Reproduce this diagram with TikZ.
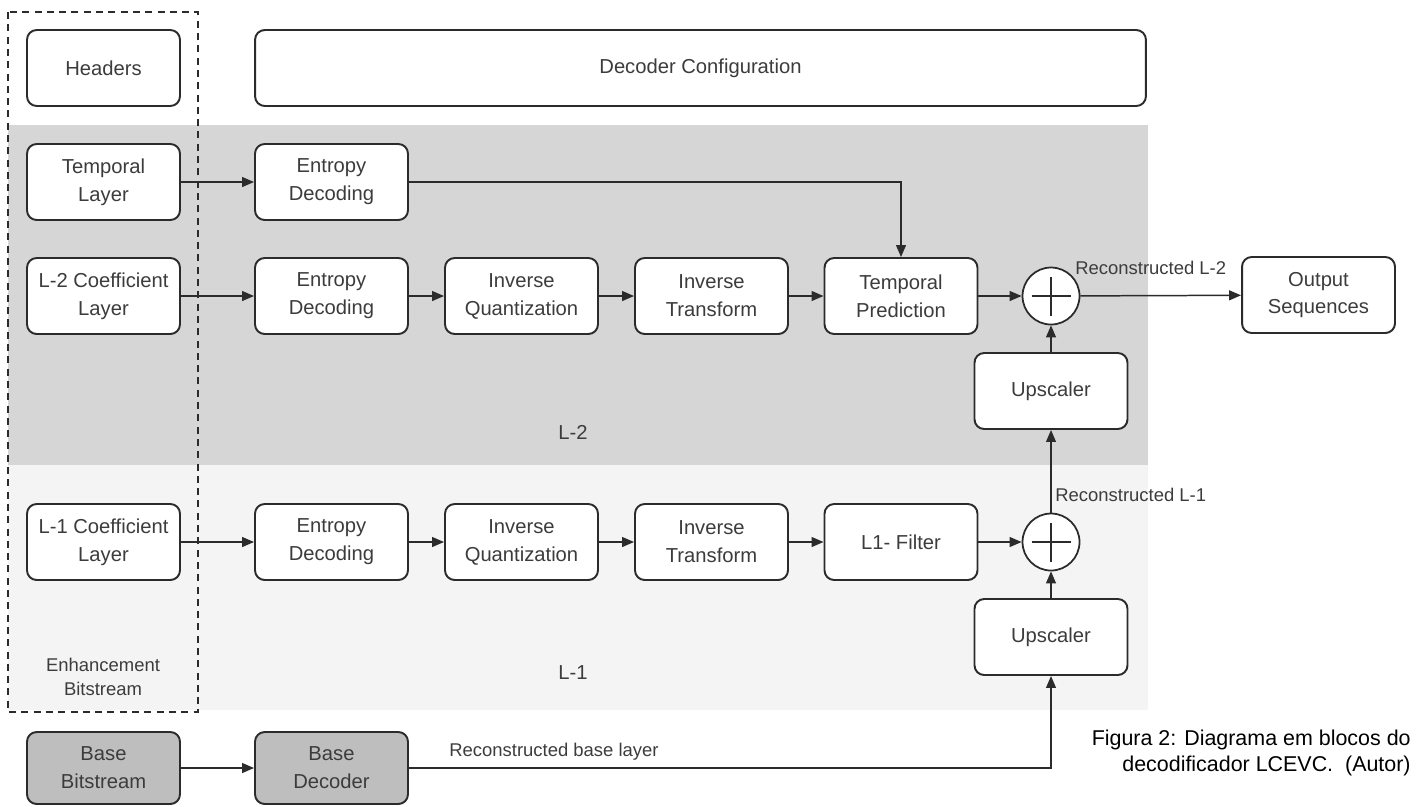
\documentclass[tikz,border=0pt]{standalone}
\usepackage{fontspec}
\setmainfont{Liberation Sans}
\definecolor{lcline}{RGB}{43,43,43}
\definecolor{lctext}{RGB}{60,60,60}
\definecolor{lcdark}{RGB}{214,214,214}
\definecolor{lclight}{RGB}{244,244,244}
\definecolor{lcbase}{RGB}{190,190,190}
\usetikzlibrary{arrows.meta,positioning,calc}

\begin{document}
\begin{tikzpicture}[x=0.02cm,y=-0.02cm,
  block/.style={draw=lcline,line width=1.1pt,rounded corners=5.5pt,fill=white,
    minimum width=3.06cm,minimum height=1.52cm,inner sep=0pt,align=center,
    text=lctext,font=\fontsize{11.5}{15.9}\selectfont},
  baseblock/.style={block,fill=lcbase},
  sumnode/.style={draw=lcline,line width=1pt,circle,fill=white,minimum size=1.14cm,inner sep=0pt,
    path picture={\draw[lcline,line width=0.9pt]
      ([xshift=-0.39cm]path picture bounding box.center) -- ([xshift=0.39cm]path picture bounding box.center);
      \draw[lcline,line width=0.9pt]
      ([yshift=-0.39cm]path picture bounding box.center) -- ([yshift=0.39cm]path picture bounding box.center);}},
  flow/.style={draw=lcline,line width=0.85pt,-{Triangle[length=6.8pt,width=5.6pt]}},
  lbl/.style={text=lctext,font=\fontsize{10.5}{13.6}\selectfont,inner sep=0pt}]
\useasboundingbox (0,0) rectangle (1422,806);
% layer bands
\fill[lcdark] (8,125) rectangle (1148,465);
\fill[lclight] (8,465) rectangle (1148,710);
\node[lbl,font=\fontsize{11.5}{15.9}\selectfont] (l2name) at (573,432) {L-2};
\node[lbl,font=\fontsize{11.5}{15.9}\selectfont] (l1name) at (573,673) {L-1};
% enhancement bitstream
\draw[lcline,line width=0.9pt,dash pattern=on 4pt off 3pt] (8,12) rectangle (198,712);
\node[lbl,align=center] (enhname) at (103,677) {Enhancement\\Bitstream};
% top row
\node[block] (headers) at (103.5,68) {Headers};
\node[block,minimum width=17.82cm] (deccfg) at (700.5,68) {Decoder Configuration};
\node[block] (templayer) at (103.5,182) {Temporal\\Layer};
\node[block] (ent0) at (331.5,182) {Entropy\\Decoding};
% L-2
\node[block] (l2coef) at (103.5,296) {L-2 Coefficient\\Layer};
\node[block] (ent2) at (331.5,296) {Entropy\\Decoding};
\node[block] (iq2) at (521.5,296) {Inverse\\Quantization};
\node[block] (it2) at (711.5,296) {Inverse\\Transform};
\node[block] (tpred) at (901,296) {Temporal\\Prediction};
\node[sumnode] (plus2) at (1051,296) {};
\node[block] (outseq) at (1318.5,295) {Output\\Sequences};
\node[block] (upsc2) at (1051,391) {Upscaler};
% L-1
\node[block] (l1coef) at (103.5,542) {L-1 Coefficient\\Layer};
\node[block] (ent1) at (331.5,542) {Entropy\\Decoding};
\node[block] (iq1) at (521.5,542) {Inverse\\Quantization};
\node[block] (it1) at (711.5,542) {Inverse\\Transform};
\node[block] (filt) at (901,542) {L1- Filter};
\node[sumnode] (plus1) at (1051,542) {};
\node[block] (upsc1) at (1051,637) {Upscaler};
% base
\node[baseblock,minimum height=1.44cm] (basebit) at (103.5,768) {Base\\Bitstream};
\node[baseblock,minimum height=1.44cm] (basedec) at (331.5,768) {Base\\Decoder};
% connectors
\draw[flow] (templayer) -- (ent0);
\draw[flow] (ent0.east) -| (tpred.north);
\foreach \a/\b in {l2coef/ent2,ent2/iq2,iq2/it2,it2/tpred,tpred/plus2,plus2/outseq,
  l1coef/ent1,ent1/iq1,iq1/it1,it1/filt,filt/plus1,basebit/basedec}
  \draw[flow] (\a) -- (\b);
\draw[flow] (upsc2) -- (plus2);
\draw[flow] (plus1) -- (upsc2);
\draw[flow] (upsc1) -- (plus1);
\draw[flow] (basedec.east) -| (upsc1.south);
\node[lbl,anchor=west] (recl2) at (1075,268) {Reconstructed L-2};
\node[lbl,anchor=west] (recl1) at (1055,495) {Reconstructed L-1};
\node[lbl,anchor=west] (recbase) at (449,752) {Reconstructed base layer};
% caption
\node[anchor=east,align=right,inner sep=0pt,text=black,font=\fontsize{12.2}{14.8}\selectfont]
  (caption) at (1411,753) {Figura 2: Diagrama em blocos do\\decodificador LCEVC.\ \ (Autor)};
\end{tikzpicture}
\end{document}
